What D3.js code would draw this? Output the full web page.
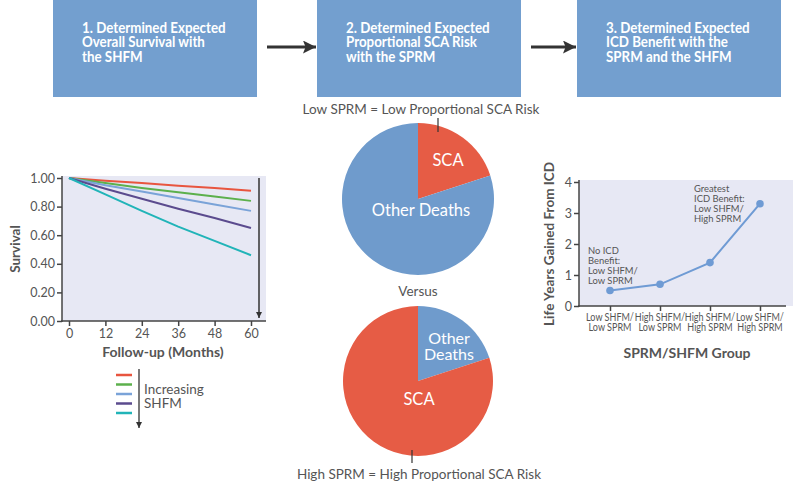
<!DOCTYPE html>
<html><head><meta charset="utf-8">
<script src="https://cdn.jsdelivr.net/npm/d3@7"></script>
<style>
body{margin:0;background:#fff;}
svg{display:block;}
text{font-family:Lato,"Open Sans",sans-serif;}
</style></head>
<body>
<svg id="c" width="800" height="487"></svg>
<script>
// ---- data ----
const boxTexts = [
  ["1. Determined Expected","Overall Survival with","the SHFM"],
  ["2. Determined Expected","Proportional SCA Risk","with the SPRM"],
  ["3. Determined Expected","ICD Benefit with the","SPRM and the SHFM"]
];
const months = [0, 12, 24, 36, 48, 60];
const survivalRed    = [1.00, 0.98, 0.965, 0.945, 0.93, 0.91];
const survivalGreen  = [1.00, 0.965, 0.93, 0.90, 0.87, 0.84];
const survivalBlue   = [1.00, 0.95, 0.905, 0.86, 0.815, 0.77];
const survivalPurple = [1.00, 0.925, 0.855, 0.785, 0.72, 0.65];
const survivalTeal   = [1.00, 0.885, 0.77, 0.66, 0.56, 0.46];
const survivalTicks = [0, 0.2, 0.4, 0.6, 0.8, 1.0];
const lowSprmPie  = [{label:"SCA", value:20}, {label:"Other Deaths", value:80}];
const highSprmPie = [{label:"Other Deaths", value:20}, {label:"SCA", value:80}];
const groups = [["Low SHFM/","Low SPRM"],["High SHFM/","Low SPRM"],["High SHFM/","High SPRM"],["Low SHFM/","High SPRM"]];
const lifeYears = [0.5, 0.7, 1.4, 3.3];
const lifeTicks = [0, 1, 2, 3, 4];

const svg = d3.select("#c");
const BOX = "#739fcf", RED = "#e65c45", PIEBLUE = "#6f9bcc", BG = "#e7e8f4", GREY = "#555";
const lineColors = ["#e8553f", "#5cb04c", "#7aa3d8", "#5b4b8e", "#21b4b8"];
const series = [survivalRed, survivalGreen, survivalBlue, survivalPurple, survivalTeal];

const defs = svg.append("defs");
defs.append("marker").attr("id","ah").attr("viewBox","0 0 10 10")
  .attr("refX",10).attr("refY",5).attr("markerWidth",6).attr("markerHeight",7)
  .attr("markerUnits","userSpaceOnUse").attr("orient","auto")
  .append("path").attr("d","M0,0L10,5L0,10Z").attr("fill","#333");
defs.append("marker").attr("id","ahBig").attr("viewBox","0 0 10 10")
  .attr("refX",10).attr("refY",5).attr("markerWidth",18).attr("markerHeight",13)
  .attr("markerUnits","userSpaceOnUse").attr("orient","auto")
  .append("path").attr("d","M0,0L10,5L0,10L2,5Z").attr("fill","#333");

// ---- top boxes ----
const boxX = [53, 317, 577], boxW = 204, boxH = 97;
boxTexts.forEach((lines, i) => {
  svg.append("rect").attr("x", boxX[i]).attr("y", 0).attr("width", boxW).attr("height", boxH).attr("fill", BOX);
  const t = svg.append("text").attr("fill","#fff").attr("font-size",15).attr("font-weight","bold")
    .attr("transform", `translate(${boxX[i] + 29},0) scale(0.89,1)`);
  lines.forEach((l, j) => t.append("tspan").attr("x", 0).attr("y", 33 + j*14.5).text(l));
});
[[267, 316], [531, 576]].forEach(([a, b]) => {
  svg.append("line").attr("x1", a).attr("x2", b).attr("y1", 47).attr("y2", 47)
    .attr("stroke","#333").attr("stroke-width",3).attr("marker-end","url(#ahBig)");
});

// ---- survival chart ----
const xs = d3.scaleLinear().domain([0, 60]).range([69, 251]);
const ys = d3.scaleLinear().domain([0, 1]).range([321, 178]);
svg.append("rect").attr("x", 62).attr("y", 176).attr("width", 204).attr("height", 145).attr("fill", BG);
const line = d3.line().x((d, i) => xs(months[i])).y(d => ys(d));
series.forEach((s, k) => {
  svg.append("path").datum(s).attr("d", line).attr("fill","none").attr("stroke", lineColors[k]).attr("stroke-width", 2);
});
const yAx = svg.append("g").attr("transform","translate(62,0)")
  .call(d3.axisLeft(ys).tickValues(survivalTicks).tickFormat(d3.format(".2f")).tickSize(5).tickPadding(2));
const xAx = svg.append("g").attr("transform","translate(0,321)")
  .call(d3.axisBottom(xs).tickValues(months).tickSize(5).tickPadding(3));
[yAx, xAx].forEach(g => {
  g.select(".domain").remove();
  g.selectAll("line").attr("stroke","#444").attr("stroke-width",1.5);
  g.selectAll("text").attr("fill",GREY).attr("font-size",12.5);
});
svg.append("line").attr("x1",62).attr("x2",62).attr("y1",176).attr("y2",322).attr("stroke","#444").attr("stroke-width",1.5);
svg.append("line").attr("x1",61).attr("x2",266).attr("y1",321).attr("y2",321).attr("stroke","#444").attr("stroke-width",1.5);
svg.append("line").attr("x1",259).attr("x2",259).attr("y1",178).attr("y2",318)
  .attr("stroke","#333").attr("stroke-width",1.5).attr("marker-end","url(#ah)");
svg.append("text").attr("transform","translate(20,249) rotate(-90)").attr("text-anchor","middle")
  .attr("fill",GREY).attr("font-size",13.5).attr("font-weight","bold").text("Survival");
svg.append("text").attr("x",163).attr("y",357).attr("text-anchor","middle")
  .attr("fill",GREY).attr("font-size",14).attr("font-weight","bold").text("Follow-up (Months)");

// legend
lineColors.forEach((c, k) => {
  svg.append("line").attr("x1",116).attr("x2",132).attr("y1",375 + k*9.5).attr("y2",375 + k*9.5)
    .attr("stroke", c).attr("stroke-width", 2.5);
});
svg.append("line").attr("x1",139).attr("x2",139).attr("y1",369).attr("y2",428)
  .attr("stroke","#333").attr("stroke-width",1.3).attr("marker-end","url(#ah)");
svg.append("text").attr("x",144).attr("y",394).attr("fill",GREY).attr("font-size",13.5).text("Increasing");
svg.append("text").attr("x",144).attr("y",408).attr("fill",GREY).attr("font-size",13.5).text("SHFM");

// ---- pies ----
const pie = d3.pie().value(d => d.value).sort(null);
const colorOf = l => l === "SCA" ? RED : PIEBLUE;
function drawPie(data, cx, cy, r) {
  const arc = d3.arc().innerRadius(0).outerRadius(r);
  const g = svg.append("g").attr("transform", `translate(${cx},${cy})`);
  g.selectAll("path").data(pie(data)).join("path").attr("d", arc).attr("fill", d => colorOf(d.data.label));
  return g;
}
const p1 = drawPie(lowSprmPie, 418, 199, 76);
p1.append("text").attr("x",30).attr("y",-33).attr("text-anchor","middle").attr("fill","#fff").attr("font-size",16.5).text("SCA");
p1.append("text").attr("x",3).attr("y",17).attr("text-anchor","middle").attr("fill","#fff").attr("font-size",16.5).text("Other Deaths");
const p2 = drawPie(highSprmPie, 418, 381, 75);
const p2t = p2.append("text").attr("text-anchor","middle").attr("fill","#fff").attr("font-size",16);
p2t.append("tspan").attr("x",31).attr("y",-37).text("Other");
p2t.append("tspan").attr("x",31).attr("y",-21).text("Deaths");
p2.append("text").attr("x",1).attr("y",24).attr("text-anchor","middle").attr("fill","#fff").attr("font-size",16.5).text("SCA");

svg.append("text").attr("x",421).attr("y",114).attr("text-anchor","middle").attr("fill",GREY).attr("font-size",13.5)
  .text("Low SPRM = Low Proportional SCA Risk");
svg.append("line").attr("x1",438).attr("x2",438).attr("y1",118).attr("y2",132).attr("stroke","#333").attr("stroke-width",1.2);
svg.append("text").attr("x",418).attr("y",296).attr("text-anchor","middle").attr("fill",GREY).attr("font-size",13.5).text("Versus");
svg.append("line").attr("x1",412).attr("x2",412).attr("y1",450).attr("y2",463).attr("stroke","#333").attr("stroke-width",1.2);
svg.append("text").attr("x",419).attr("y",479).attr("text-anchor","middle").attr("fill",GREY).attr("font-size",13.5)
  .text("High SPRM = High Proportional SCA Risk");

// ---- ICD benefit chart ----
const xp = d3.scalePoint().domain(d3.range(groups.length)).range([610, 760]);
const yl = d3.scaleLinear().domain([0, 4]).range([306, 182]);
svg.append("rect").attr("x",579).attr("y",180).attr("width",214).attr("height",126).attr("fill",BG);
const yA2 = svg.append("g").attr("transform","translate(579,0)")
  .call(d3.axisLeft(yl).tickValues(lifeTicks).tickFormat(d3.format("d")).tickSize(5).tickPadding(2));
const xA2 = svg.append("g").attr("transform","translate(0,306)")
  .call(d3.axisBottom(xp).tickSize(5).tickFormat(""));
[yA2, xA2].forEach(g => {
  g.select(".domain").remove();
  g.selectAll("line").attr("stroke","#444").attr("stroke-width",1.5);
  g.selectAll("text").attr("fill",GREY).attr("font-size",12.5);
});
svg.append("line").attr("x1",579).attr("x2",579).attr("y1",180).attr("y2",307).attr("stroke","#444").attr("stroke-width",1.5);
svg.append("line").attr("x1",578).attr("x2",786).attr("y1",306).attr("y2",306).attr("stroke","#444").attr("stroke-width",1.5);
groups.forEach((g, i) => {
  const t = svg.append("text").attr("text-anchor","middle").attr("fill",GREY).attr("font-size",10.5)
    .attr("transform", `translate(${xp(i)},0) scale(0.86,1)`);
  g.forEach((l, j) => t.append("tspan").attr("x", 0).attr("y", 321 + j*10.5).text(l));
});
const l2 = d3.line().x((d, i) => xp(i)).y(d => yl(d));
svg.append("path").datum(lifeYears).attr("d", l2).attr("fill","none").attr("stroke","#6f9bd4").attr("stroke-width",2);
svg.selectAll(".pt").data(lifeYears).join("circle").attr("cx",(d,i)=>xp(i)).attr("cy",d=>yl(d)).attr("r",3.8).attr("fill","#6f9bd4");
const a1 = svg.append("text").attr("fill",GREY).attr("font-size",10).attr("transform","translate(588,0) scale(0.94,1)");
["No ICD","Benefit:","Low SHFM/","Low SPRM"].forEach((l,j)=>a1.append("tspan").attr("x",0).attr("y",254 + j*10).text(l));
const a2 = svg.append("text").attr("fill",GREY).attr("font-size",10).attr("transform","translate(694,0) scale(0.94,1)");
["Greatest","ICD Benefit:","Low SHFM/","High SPRM"].forEach((l,j)=>a2.append("tspan").attr("x",0).attr("y",192 + j*10).text(l));
svg.append("text").attr("transform","translate(554,244) rotate(-90)").attr("text-anchor","middle")
  .attr("fill",GREY).attr("font-size",13.5).attr("font-weight","bold").text("Life Years Gained From ICD");
svg.append("text").attr("x",687).attr("y",358).attr("text-anchor","middle")
  .attr("fill",GREY).attr("font-size",14).attr("font-weight","bold").text("SPRM/SHFM Group");
</script>
</body></html>
